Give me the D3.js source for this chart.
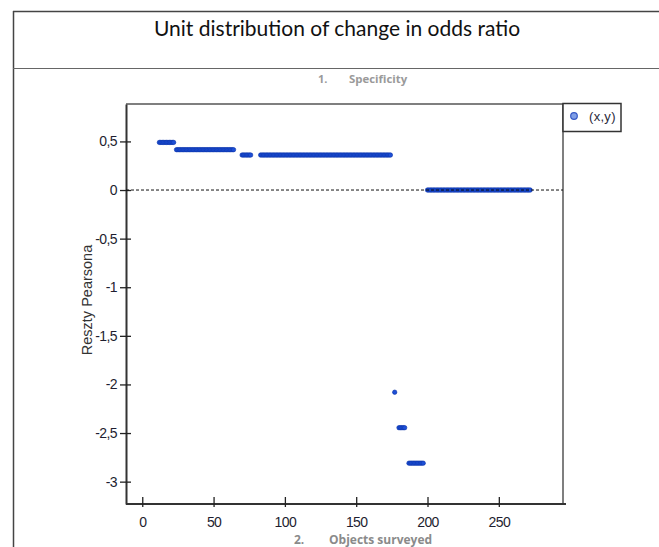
<!DOCTYPE html>
<html>
<head>
<meta charset="utf-8">
<script src="https://cdn.jsdelivr.net/npm/d3@7"></script>
<style>
html,body{margin:0;padding:0;background:#fff;}
svg{display:block;}
</style>
</head>
<body>
<svg id="chart" width="659" height="547"></svg>
<script>
// ---- data ----
const title = "Unit distribution of change in odds ratio";
const subTitleTop = ["1.", "Specificity"];
const subTitleBottom = ["2.", "Objects surveyed"];
const yAxisLabel = "Reszty Pearsona";
const legendLabel = "(x,y)";
const xTicks = [0, 50, 100, 150, 200, 250];
const yTicks = [0.5, 0, -0.5, -1, -1.5, -2, -2.5, -3];
const groupResidual = [0.49, 0.415, 0.36, 0.36, -2.08, -2.445, -2.81, 0.0];
const groupObjects = [
  [12,13,14,15,16,17,18,19,20,21,22],
  [24,25,26,27,28,29,30,31,32,33,34,35,36,37,38,39,40,41,42,43,44,45,46,47,48,49,50,51,52,53,54,55,56,57,58,59,60,61,62,63,64],
  [70,71,72,73,74,75,76],
  [83,84,85,86,87,88,89,90,91,92,93,94,95,96,97,98,99,100,101,102,103,104,105,106,107,108,109,110,111,112,113,114,115,116,117,118,119,120,121,122,123,124,125,126,127,128,129,130,131,132,133,134,135,136,137,138,139,140,141,142,143,144,145,146,147,148,149,150,151,152,153,154,155,156,157,158,159,160,161,162,163,164,165,166,167,168,169,170,171,172,173,174],
  [177],
  [180,181,182,183,184],
  [187,188,189,190,191,192,193,194,195,196,197],
  [200,201,202,203,204,205,206,207,208,209,210,211,212,213,214,215,216,217,218,219,220,221,222,223,224,225,226,227,228,229,230,231,232,233,234,235,236,237,238,239,240,241,242,243,244,245,246,247,248,249,250,251,252,253,254,255,256,257,258,259,260,261,262,263,264,265,266,267,268,269,270,271,272]
];

const points = [];
groupObjects.forEach((objs, g) => objs.forEach(o => points.push({x: o, y: groupResidual[g]})));

// ---- drawing ----
const svg = d3.select("#chart");
const plot = {left: 126, right: 563, top: 104, bottom: 504};
const x = d3.scaleLinear().domain([-11.4, 295]).range([plot.left, plot.right]);
const y = d3.scaleLinear().domain([0.885, -3.23]).range([plot.top, plot.bottom]);
const fmt = v => String(v).replace(".", ",");
const tickFont = "'Liberation Sans Narrow','Arial Narrow','Liberation Sans',Arial,sans-serif";

// outer frame
svg.append("line").attr("x1", 13.5).attr("x2", 13.5).attr("y1", 11).attr("y2", 547).attr("stroke", "#444").attr("stroke-width", 1.5);
svg.append("line").attr("x1", 13).attr("x2", 659).attr("y1", 11.5).attr("y2", 11.5).attr("stroke", "#444").attr("stroke-width", 1.5);
svg.append("line").attr("x1", 13).attr("x2", 659).attr("y1", 68.5).attr("y2", 68.5).attr("stroke", "#666").attr("stroke-width", 1);

svg.append("text").attr("x", 337).attr("y", 36).attr("text-anchor", "middle")
  .attr("font-family", "Lato, 'Open Sans', sans-serif").attr("font-size", 21).attr("fill", "#111")
  .text(title);

const subFont = "'Open Sans', Lato, sans-serif";
svg.append("text").attr("x", 318).attr("y", 83).attr("font-family", subFont).attr("font-size", 11)
  .attr("font-weight", "bold").attr("fill", "#9a9a9a").text(subTitleTop[0]);
svg.append("text").attr("x", 349).attr("y", 83).attr("font-family", subFont).attr("font-size", 11.4)
  .attr("font-weight", "bold").attr("fill", "#9a9a9a").text(subTitleTop[1]);
svg.append("text").attr("x", 294).attr("y", 544).attr("font-family", subFont).attr("font-size", 12)
  .attr("font-weight", "bold").attr("fill", "#8a8a8a").text(subTitleBottom[0]);
svg.append("text").attr("x", 329).attr("y", 544).attr("font-family", subFont).attr("font-size", 12)
  .attr("font-weight", "bold").attr("fill", "#8a8a8a").text(subTitleBottom[1]);

// plot frame
svg.append("line").attr("x1", plot.left).attr("x2", plot.right).attr("y1", plot.top).attr("y2", plot.top).attr("stroke", "#555").attr("stroke-width", 1.5);
svg.append("line").attr("x1", plot.right).attr("x2", plot.right).attr("y1", plot.top).attr("y2", plot.bottom).attr("stroke", "#555").attr("stroke-width", 1.5);

// axes (D3 axis generators)
const yAxis = d3.axisLeft(y).tickValues(yTicks).tickFormat(fmt).tickSizeOuter(0).tickSizeInner(6).tickPadding(3);
const yg = svg.append("g").attr("transform", `translate(${plot.left},0)`).call(yAxis);
yg.select(".domain").attr("stroke", "#333").attr("stroke-width", 2);
yg.selectAll(".tick line").attr("x2", 5).attr("x1", -6).attr("stroke", "#222").attr("stroke-width", 1.3);
yg.selectAll(".tick text").attr("font-family", tickFont).attr("font-size", 14).attr("fill", "#1e1e30")
  .attr("letter-spacing", -0.6);

const xAxis = d3.axisBottom(x).tickValues(xTicks).tickFormat(fmt).tickSizeOuter(0).tickSizeInner(3).tickPadding(10);
const xg = svg.append("g").attr("transform", `translate(0,${plot.bottom})`).call(xAxis);
xg.select(".domain").attr("stroke", "#333").attr("stroke-width", 2).attr("d", `M${plot.left},0H${plot.right + 3}`);
xg.selectAll(".tick line").attr("y1", -7).attr("y2", 3).attr("stroke", "#222").attr("stroke-width", 1.3);
xg.selectAll(".tick text").attr("font-family", tickFont).attr("font-size", 14).attr("fill", "#1e1e30")
  .attr("letter-spacing", -0.6);

svg.append("text").attr("transform", "translate(92,300) rotate(-90)").attr("text-anchor", "middle")
  .attr("font-family", "'Liberation Sans',Arial,sans-serif").attr("font-size", 14.5).attr("fill", "#333")
  .text(yAxisLabel);

// points
svg.append("g").selectAll("circle").data(points).join("circle")
  .attr("cx", d => x(d.x)).attr("cy", d => y(d.y)).attr("r", 2.2)
  .attr("fill", "#1d4fd6").attr("stroke", "#0a33a8").attr("stroke-width", 0.6);

// zero reference line
svg.append("line").attr("x1", plot.left).attr("x2", plot.right).attr("y1", y(0)).attr("y2", y(0))
  .attr("stroke", "#111").attr("stroke-width", 1).attr("stroke-dasharray", "3,2");

// legend
svg.append("rect").attr("x", 563).attr("y", 103.5).attr("width", 58).attr("height", 28)
  .attr("fill", "#fff").attr("stroke", "#333").attr("stroke-width", 1.5);
svg.append("circle").attr("cx", 574).attr("cy", 116).attr("r", 3.3)
  .attr("fill", "#7f9ee6").attr("stroke", "#3558c4").attr("stroke-width", 1.2);
svg.append("text").attr("x", 589).attr("y", 121).attr("font-family", tickFont).attr("font-size", 13)
  .attr("fill", "#2a2a3a").attr("letter-spacing", 0.3).text(legendLabel);
</script>
</body>
</html>
